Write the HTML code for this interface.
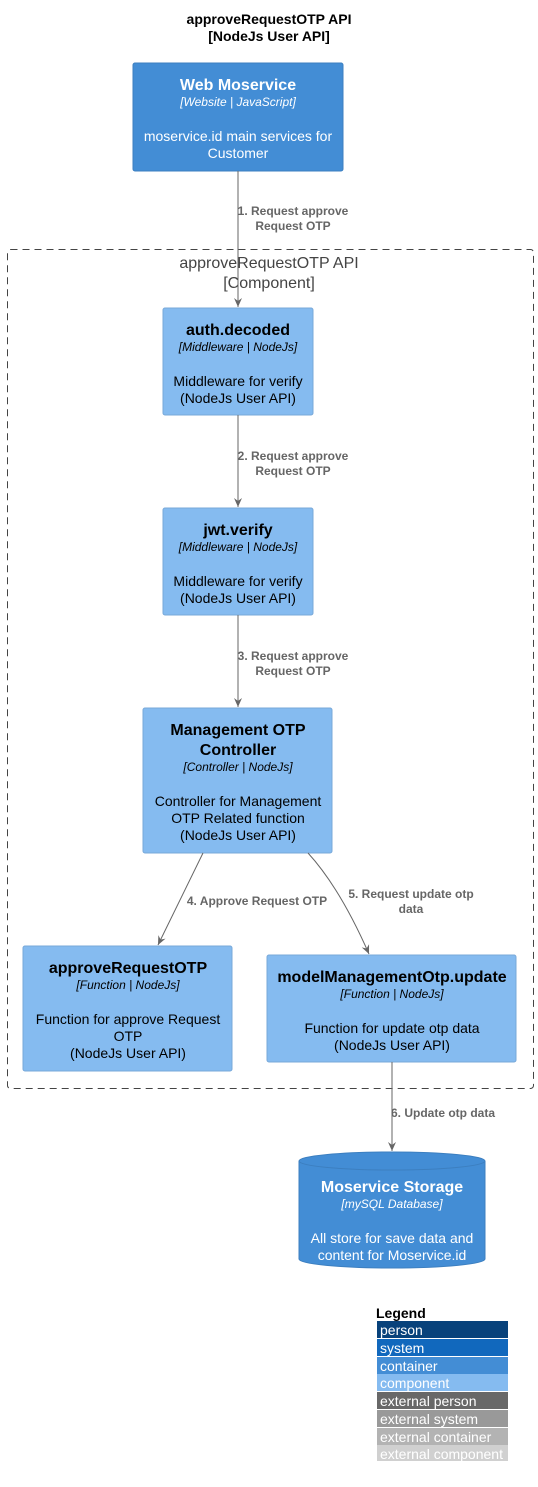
<!DOCTYPE html>
<html><head><style>
body{margin:0;background:#fff}
svg{display:block}
text{font-family:"Liberation Sans",sans-serif}
.t{font-weight:bold;font-size:16px;text-anchor:middle}
.s{font-style:italic;font-size:12px;text-anchor:middle}
.d{font-size:14px;text-anchor:middle}
.l{font-weight:bold;font-size:12px;fill:#666;text-anchor:middle}
.g{font-size:14px;fill:#fff}
</style></head><body>
<svg width="538" height="1487" viewBox="0 0 538 1487" xmlns="http://www.w3.org/2000/svg">
<defs><marker id="a" markerWidth="10" markerHeight="10" refX="9" refY="5" orient="auto" markerUnits="userSpaceOnUse"><path d="M0,1 L9,5 L0,9 L3,5 Z" fill="#666"/></marker></defs>
<text x="269" y="24" font-weight="bold" font-size="14" text-anchor="middle">approveRequestOTP API</text>
<text x="269" y="41" font-weight="bold" font-size="14" text-anchor="middle">[NodeJs User API]</text>

<rect x="7.5" y="249.5" width="526" height="839" rx="3" fill="none" stroke="#444" stroke-dasharray="7,5"/>
<text x="269" y="268" font-size="16" fill="#444" text-anchor="middle">approveRequestOTP API</text>
<text x="269" y="288" font-size="16" fill="#444" text-anchor="middle">[Component]</text>

<rect x="133" y="63" width="210" height="108" rx="2" fill="#438DD5" stroke="#3C7FC0"/>
<g fill="#fff"><text class="t" x="238" y="90">Web Moservice</text><text class="s" x="238" y="106">[Website | JavaScript]</text>
<text class="d" x="238" y="141">moservice.id main services for</text><text class="d" x="238" y="158">Customer</text></g>

<g fill="#85BBF0" stroke="#78A8D8">
<rect x="163" y="308" width="150" height="107" rx="2"/>
<rect x="163" y="508" width="150" height="107" rx="2"/>
<rect x="143" y="708" width="189" height="145" rx="2"/>
<rect x="23" y="946" width="209" height="125" rx="2"/>
<rect x="267" y="955" width="249" height="107" rx="2"/>
</g>
<g fill="#000">
<text class="t" x="238" y="335">auth.decoded</text><text class="s" x="238" y="351">[Middleware | NodeJs]</text>
<text class="d" x="238" y="386">Middleware for verify</text><text class="d" x="238" y="403">(NodeJs User API)</text>
<text class="t" x="238" y="535">jwt.verify</text><text class="s" x="238" y="551">[Middleware | NodeJs]</text>
<text class="d" x="238" y="586">Middleware for verify</text><text class="d" x="238" y="603">(NodeJs User API)</text>
<text class="t" x="238" y="735">Management OTP</text><text class="t" x="238" y="755">Controller</text><text class="s" x="238" y="771">[Controller | NodeJs]</text>
<text class="d" x="238" y="806">Controller for Management</text><text class="d" x="238" y="823">OTP Related function</text><text class="d" x="238" y="840">(NodeJs User API)</text>
<text class="t" x="128" y="973">approveRequestOTP</text><text class="s" x="128" y="989">[Function | NodeJs]</text>
<text class="d" x="128" y="1024">Function for approve Request</text><text class="d" x="128" y="1041">OTP</text><text class="d" x="128" y="1058">(NodeJs User API)</text>
<text class="t" x="392" y="982">modelManagementOtp.update</text><text class="s" x="392" y="998">[Function | NodeJs]</text>
<text class="d" x="392" y="1033">Function for update otp data</text><text class="d" x="392" y="1050">(NodeJs User API)</text>
</g>

<path d="M299,1161 L299,1259 A93,9 0 0 0 485,1259 L485,1161" fill="#438DD5" stroke="#3C7FC0"/>
<ellipse cx="392" cy="1161" rx="93" ry="9" fill="#438DD5" stroke="#3C7FC0"/>
<g fill="#fff"><text class="t" x="392" y="1192">Moservice Storage</text><text class="s" x="392" y="1208">[mySQL Database]</text>
<text class="d" x="392" y="1243">All store for save data and</text><text class="d" x="392" y="1260">content for Moservice.id</text></g>

<g stroke="#666" fill="none" marker-end="url(#a)">
<path d="M238,171 L238,307"/>
<path d="M238,415 L238,507"/>
<path d="M238,615 L238,707"/>
<path d="M203,853 L158,945"/>
<path d="M308,853 Q340,888 369,954"/>
<path d="M392,1062 L392,1151"/>
</g>
<text class="l" x="293" y="215">1. Request approve</text><text class="l" x="293" y="230">Request OTP</text>
<text class="l" x="293" y="460">2. Request approve</text><text class="l" x="293" y="475">Request OTP</text>
<text class="l" x="293" y="660">3. Request approve</text><text class="l" x="293" y="675">Request OTP</text>
<text class="l" x="257" y="905">4. Approve Request OTP</text>
<text class="l" x="411" y="898">5. Request update otp</text><text class="l" x="411" y="913">data</text>
<text class="l" x="443" y="1117">6. Update otp data</text>

<text x="376" y="1318" font-weight="bold" font-size="14">Legend</text>
<rect x="377" y="1321" width="131" height="17" fill="#08427B"/>
<rect x="377" y="1339" width="131" height="17" fill="#1168BD"/>
<rect x="377" y="1357" width="131" height="17" fill="#438DD5"/>
<rect x="377" y="1374" width="131" height="17" fill="#85BBF0"/>
<rect x="377" y="1392" width="131" height="17" fill="#686868"/>
<rect x="377" y="1410" width="131" height="17" fill="#999999"/>
<rect x="377" y="1428" width="131" height="17" fill="#B3B3B3"/>
<rect x="377" y="1445" width="131" height="16" fill="#D0D0D0"/>
<text class="g" x="380" y="1335">person</text>
<text class="g" x="380" y="1353">system</text>
<text class="g" x="380" y="1371">container</text>
<text class="g" x="380" y="1388">component</text>
<text class="g" x="380" y="1406">external person</text>
<text class="g" x="380" y="1424">external system</text>
<text class="g" x="380" y="1442">external container</text>
<text class="g" x="380" y="1459">external component</text>
</svg>
</body></html>
